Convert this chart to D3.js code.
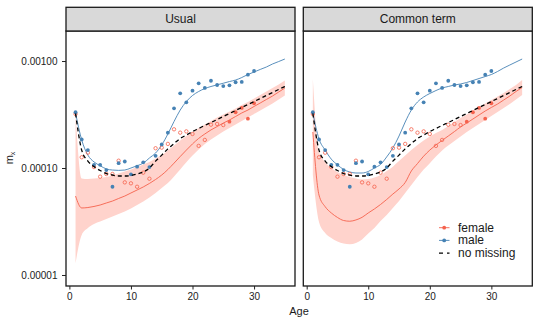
<!DOCTYPE html>
<html>
<head>
<meta charset="utf-8">
<script src="https://d3js.org/d3.v7.min.js"></script>
<style>
  body { margin: 0; background: #fff; }
  text { font-family: "Liberation Sans", Arial, sans-serif; }
</style>
</head>
<body>
<script>
// observed rates by age (same in both panels)
const pointAges = [1,2,3,4,5,6,7,8,9,10,11,12,13,14,15,16,17,18,19,20,21,22,23,24,25,26,27,28,29,30];
const maleRate = [3.32e-4,1.85e-4,1.47e-4,1.07e-4,1.07e-4,9.57e-5,6.68e-5,1.11e-4,1.15e-4,8.73e-5,
  1.03e-4,1.13e-4,1.02e-4,1.30e-4,1.66e-4,2.14e-4,3.61e-4,4.99e-4,4.11e-4,5.28e-4,
  6.19e-4,5.60e-4,6.54e-4,5.97e-4,5.83e-4,5.93e-4,6.33e-4,6.37e-4,7.45e-4,8.07e-4];
const femaleRate = [3.20e-4,1.26e-4,1.39e-4,1.02e-4,8.30e-5,8.79e-5,8.79e-5,1.17e-4,7.34e-5,7.19e-5,
  6.68e-5,9.04e-5,7.94e-5,1.53e-4,1.55e-4,1.68e-4,2.30e-4,2.14e-4,2.20e-4,2.08e-4,
  1.61e-4,1.83e-4,2.54e-4,2.58e-4,2.52e-4,2.71e-4,3.32e-4,3.64e-4,2.89e-4,4.03e-4];
// female values that were missing (drawn open)
const femaleMissing = [true,true,true,true,true,true,true,true,true,true,
  true,true,true,true,true,true,true,true,true,true,
  true,true,true,true,true,false,false,false,false,false];

// fitted curves
const fitAges = [1,2,3,4,5,6,7,8,9,10,11,12,13,14,15,16,17,18,19,20,21,22,23,24,25,26,27,28,29,30,31,32,33,34,35];
const noMissingFit = [3.23e-4,1.47e-4,1.16e-4,1.03e-4,9.48e-5,8.88e-5,8.60e-5,8.42e-5,8.42e-5,8.51e-5,
  8.79e-5,9.18e-5,1.00e-4,1.16e-4,1.32e-4,1.51e-4,1.69e-4,1.89e-4,2.03e-4,2.19e-4,
  2.34e-4,2.50e-4,2.66e-4,2.84e-4,3.03e-4,3.23e-4,3.45e-4,3.68e-4,3.92e-4,4.18e-4,
  4.46e-4,4.76e-4,5.08e-4,5.42e-4,5.78e-4];

const maleFitUsual = [3.27e-4,1.83e-4,1.32e-4,1.14e-4,1.05e-4,9.80e-5,9.57e-5,9.50e-5,9.57e-5,1.00e-4,
  1.05e-4,1.11e-4,1.24e-4,1.38e-4,1.64e-4,2.08e-4,2.72e-4,3.48e-4,4.18e-4,4.76e-4,
  5.19e-4,5.53e-4,5.78e-4,5.99e-4,6.20e-4,6.43e-4,6.64e-4,7.01e-4,7.48e-4,7.89e-4,
  8.34e-4,8.79e-4,9.38e-4,9.89e-4,1.044e-3];
const femaleFitUsual = [5.47e-5,4.23e-5,4.27e-5,4.37e-5,4.51e-5,4.71e-5,4.91e-5,5.19e-5,5.47e-5,5.84e-5,
  6.23e-5,6.65e-5,7.17e-5,7.81e-5,8.60e-5,9.68e-5,1.11e-4,1.28e-4,1.47e-4,1.68e-4,
  1.89e-4,2.08e-4,2.27e-4,2.44e-4,2.63e-4,2.81e-4,3.03e-4,3.27e-4,3.48e-4,3.76e-4,
  4.05e-4,4.37e-4,4.71e-4,5.13e-4,5.59e-4];
const femaleLowUsual = [1.29e-5,2.37e-5,2.75e-5,3.00e-5,3.16e-5,3.34e-5,3.52e-5,3.72e-5,3.92e-5,4.18e-5,
  4.51e-5,4.86e-5,5.30e-5,5.84e-5,6.50e-5,7.24e-5,8.33e-5,9.68e-5,1.13e-4,1.31e-4,
  1.49e-4,1.68e-4,1.85e-4,2.01e-4,2.19e-4,2.36e-4,2.55e-4,2.75e-4,2.97e-4,3.20e-4,
  3.45e-4,3.72e-4,4.01e-4,4.37e-4,4.76e-4];
const femaleHighUsual = [3.27e-4,7.98e-5,7.89e-5,7.98e-5,8.06e-5,8.24e-5,8.51e-5,8.88e-5,9.28e-5,9.68e-5,
  1.02e-4,1.08e-4,1.14e-4,1.23e-4,1.32e-4,1.46e-4,1.62e-4,1.81e-4,1.99e-4,2.17e-4,
  2.36e-4,2.55e-4,2.75e-4,2.97e-4,3.16e-4,3.37e-4,3.60e-4,3.88e-4,4.14e-4,4.46e-4,
  4.81e-4,5.19e-4,5.59e-4,6.03e-4,6.57e-4];

const maleFitCommon = [3.27e-4,1.87e-4,1.47e-4,1.21e-4,1.07e-4,9.68e-5,9.18e-5,8.98e-5,8.98e-5,9.28e-5,
  1.00e-4,1.08e-4,1.27e-4,1.54e-4,1.99e-4,2.69e-4,3.48e-4,4.14e-4,4.61e-4,4.97e-4,
  5.30e-4,5.59e-4,5.78e-4,5.97e-4,6.10e-4,6.30e-4,6.57e-4,6.86e-4,7.16e-4,7.48e-4,
  7.98e-4,8.60e-4,9.18e-4,9.79e-4,1.044e-3];
const femaleFitCommon = [2.17e-4,5.59e-5,4.35e-5,3.80e-5,3.45e-5,3.23e-5,3.18e-5,3.27e-5,3.46e-5,3.80e-5,
  4.14e-5,4.56e-5,5.08e-5,5.71e-5,6.37e-5,7.32e-5,9.38e-5,1.10e-4,1.29e-4,1.47e-4,
  1.64e-4,1.81e-4,1.99e-4,2.19e-4,2.42e-4,2.63e-4,2.87e-4,3.13e-4,3.41e-4,3.68e-4,
  3.96e-4,4.32e-4,4.71e-4,5.19e-4,5.65e-4];
const femaleLowCommon = [8.60e-5,3.13e-5,2.47e-5,2.22e-5,2.06e-5,1.97e-5,1.94e-5,1.99e-5,2.15e-5,2.44e-5,
  2.75e-5,3.20e-5,3.64e-5,4.23e-5,4.91e-5,5.84e-5,6.94e-5,8.24e-5,9.68e-5,1.11e-4,
  1.28e-4,1.46e-4,1.62e-4,1.79e-4,1.97e-4,2.17e-4,2.36e-4,2.58e-4,2.81e-4,3.06e-4,
  3.34e-4,3.64e-4,3.96e-4,4.37e-4,4.81e-4];
const femaleHighCommon = [6.79e-4,1.41e-4,1.14e-4,1.00e-4,9.18e-5,8.60e-5,8.24e-5,7.98e-5,7.81e-5,7.89e-5,
  8.15e-5,8.60e-5,9.38e-5,1.03e-4,1.16e-4,1.31e-4,1.47e-4,1.64e-4,1.81e-4,1.97e-4,
  2.12e-4,2.27e-4,2.47e-4,2.69e-4,2.93e-4,3.16e-4,3.41e-4,3.72e-4,4.01e-4,4.32e-4,
  4.66e-4,5.02e-4,5.47e-4,5.97e-4,6.64e-4];

const panelNames = ["Usual", "Common term"];
const xTicks = [0, 10, 20, 30];
const yTicks = [0.00001, 0.0001, 0.001];
const yTickLabels = ["0.00001", "0.00010", "0.00100"];
const legendLabels = ["female", "male", "no missing"];

const fits = [
  {male: maleFitUsual, female: femaleFitUsual, lo: femaleLowUsual, hi: femaleHighUsual},
  {male: maleFitCommon, female: femaleFitCommon, lo: femaleLowCommon, hi: femaleHighCommon}
];

const femaleCol = "#f5624d", maleCol = "#4682b4", ribbonCol = "#ffd3cc";

const svg = d3.select("body").append("svg")
  .attr("width", 540).attr("height", 324);

const panelLeft = [66, 303.3], panelW = 229;
const plotTop = 31, plotBottom = 286, stripTop = 7.3;

const y = d3.scaleLog().domain([7.89e-6, 1.908e-3]).range([plotBottom, plotTop]);

panelNames.forEach((name, i) => {
  const left = panelLeft[i];
  const x = d3.scaleLinear().domain([-0.55, 36.65]).range([left, left + panelW]);
  const f = fits[i];
  const g = svg.append("g");

  g.append("rect").attr("x", left).attr("y", plotTop).attr("width", panelW).attr("height", plotBottom - plotTop)
    .attr("fill", "#fff");

  // ribbon
  g.append("path")
    .datum(fitAges.map((a, k) => ({a: a, lo: f.lo[k], hi: f.hi[k]})))
    .attr("fill", ribbonCol)
    .attr("d", d3.area().x(d => x(d.a)).y0(d => y(d.lo)).y1(d => y(d.hi)).curve(d3.curveMonotoneX));

  const line = d3.line().x(d => x(d[0])).y(d => y(d[1])).curve(d3.curveMonotoneX);

  g.append("path").datum(d3.zip(fitAges, f.female))
    .attr("fill", "none").attr("stroke", femaleCol).attr("stroke-width", 0.9).attr("d", line);
  g.append("path").datum(d3.zip(fitAges, f.male))
    .attr("fill", "none").attr("stroke", maleCol).attr("stroke-width", 0.9).attr("d", line);

  // points
  g.selectAll(".fpt").data(pointAges).enter().append("circle")
    .attr("cx", a => x(a)).attr("cy", (a, k) => y(femaleRate[k]))
    .attr("r", (a, k) => femaleMissing[k] ? 1.7 : 1.9)
    .attr("fill", (a, k) => femaleMissing[k] ? "none" : femaleCol)
    .attr("stroke", (a, k) => femaleMissing[k] ? femaleCol : "none")
    .attr("stroke-width", 0.8);
  g.selectAll(".mpt").data(pointAges).enter().append("circle")
    .attr("cx", a => x(a)).attr("cy", (a, k) => y(maleRate[k]))
    .attr("r", 1.9).attr("fill", maleCol);

  g.append("path").datum(d3.zip(fitAges, noMissingFit))
    .attr("fill", "none").attr("stroke", "#000").attr("stroke-width", 1.3)
    .attr("stroke-dasharray", "4,3").attr("d", line);

  // border and strip
  g.append("rect").attr("x", left).attr("y", plotTop).attr("width", panelW).attr("height", plotBottom - plotTop)
    .attr("fill", "none").attr("stroke", "#1a1a1a").attr("stroke-width", 1.3);
  g.append("rect").attr("x", left).attr("y", stripTop).attr("width", panelW).attr("height", plotTop - stripTop)
    .attr("fill", "#d9d9d9").attr("stroke", "#1a1a1a").attr("stroke-width", 1.3);
  g.append("text").attr("x", left + panelW / 2).attr("y", (stripTop + plotTop) / 2)
    .attr("text-anchor", "middle").attr("dominant-baseline", "central")
    .attr("font-size", 12).attr("fill", "#1a1a1a").text(name);

  const xa = g.append("g").attr("transform", "translate(0," + plotBottom + ")")
    .call(d3.axisBottom(x).tickValues(xTicks).tickSize(3.5).tickPadding(3.5));
  xa.select(".domain").remove();
  xa.selectAll("text").attr("font-size", 10).attr("fill", "#222");
  xa.selectAll("line").attr("stroke", "#222");

  if (i === 0) {
    const ya = g.append("g").attr("transform", "translate(" + left + ",0)")
      .call(d3.axisLeft(y).tickValues(yTicks).tickFormat((d, k) => yTickLabels[k]).tickSize(4).tickPadding(4.5));
    ya.select(".domain").remove();
    ya.selectAll("text").attr("font-size", 10).attr("fill", "#222");
    ya.selectAll("line").attr("stroke", "#222");
  } else {
    // legend
    const lg = g.append("g");
    legendLabels.forEach((lab, k) => {
      const ly = 227.7 + k * 12.7;
      const col = k === 0 ? femaleCol : k === 1 ? maleCol : "#000";
      lg.append("line").attr("x1", 439).attr("x2", 449.5).attr("y1", ly).attr("y2", ly)
        .attr("stroke", col).attr("stroke-width", k === 2 ? 1.3 : 0.9)
        .attr("stroke-dasharray", k === 2 ? "4,4" : null);
      if (k < 2) lg.append("circle").attr("cx", 444.2).attr("cy", ly).attr("r", 1.9).attr("fill", col);
      lg.append("text").attr("x", 458).attr("y", ly).attr("dominant-baseline", "central")
        .attr("font-size", 12).attr("fill", "#1a1a1a").text(lab);
    });
  }
});

// axis titles
svg.append("text").attr("x", 299).attr("y", 311).attr("text-anchor", "middle")
  .attr("dominant-baseline", "central").attr("font-size", 11).attr("fill", "#1a1a1a").text("Age");
const yt = svg.append("text").attr("transform", "translate(13,158) rotate(-90)")
  .attr("text-anchor", "middle").attr("font-size", 11).attr("fill", "#1a1a1a");
yt.append("tspan").text("m");
yt.append("tspan").attr("font-size", 7).attr("dy", 2).text("x");
</script>
</body>
</html>
